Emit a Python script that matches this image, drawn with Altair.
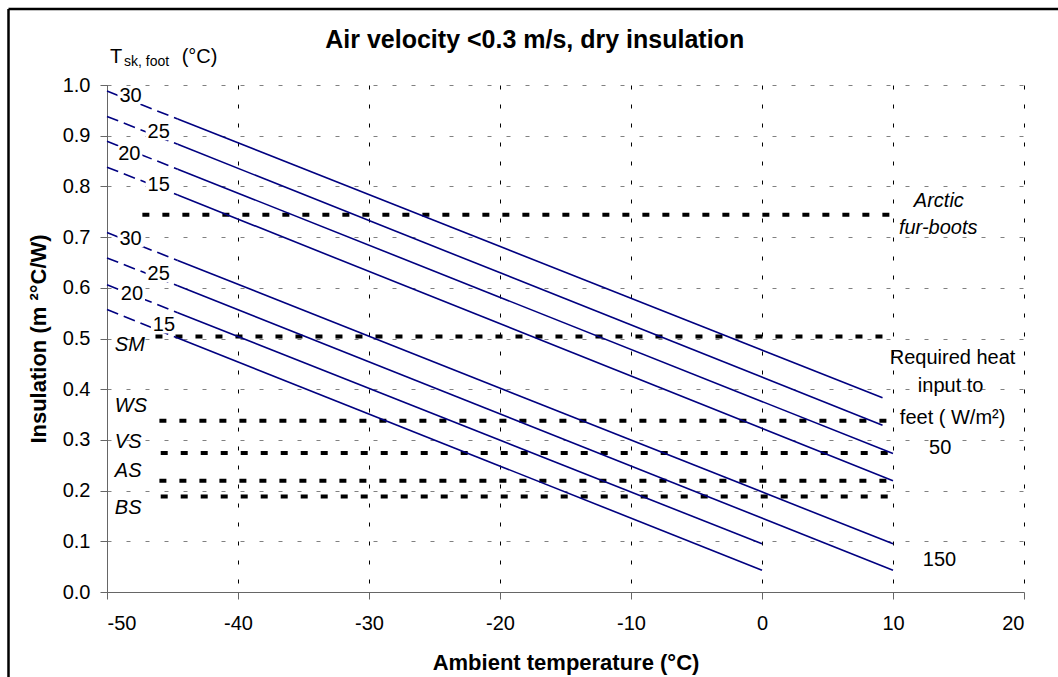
import altair as alt
import pandas as pd

FONT = "Liberation Sans"

# ---------------- data ----------------
# skin temperature iso-lines (upper group and lower group)
tsk_label = ["30", "25", "20", "15", "30", "25", "20", "15"]
x_start = [-50, -50, -50, -50, -50, -50, -50, -50]
y_start = [0.988, 0.938, 0.889, 0.838, 0.709, 0.659, 0.606, 0.557]
x_mid = [-44.6, -44.6, -44.6, -44.6, -44.6, -44.6, -44.6, -44.6]
y_mid = [0.933, 0.883, 0.834, 0.783, 0.654, 0.604, 0.551, 0.501]
x_end = [9.2, 9.2, 10, 10, 10, 10, 0, 0]
y_end = [0.383, 0.329, 0.273, 0.2195, 0.095, 0.043, 0.095, 0.043]
label_x = [-48.2, -46.05, -48.3, -46.05, -48.2, -46.05, -48.1, -45.65]
label_y = [0.979, 0.907, 0.863, 0.803, 0.696, 0.627, 0.588, 0.526]

# footwear insulation levels
shoe_name = ["Arctic fur-boots", "SM", "WS", "VS", "AS", "BS"]
shoe_ins = [0.744, 0.504, 0.338, 0.274, 0.2195, 0.1886]
shoe_x0 = [-47.3, -46.3, -46.0, -45.9, -46.0, -45.9]
shoe_x1 = [10.2, 10.0, 10.0, 10.2, 10.2, 10.3]

shoe_lab = ["SM", "WS", "VS", "AS", "BS"]
shoe_lab_x = [-49.4, -49.4, -49.4, -49.4, -49.4]
shoe_lab_y = [0.488, 0.366, 0.295, 0.238, 0.166]

arctic_text = ["Arctic", "fur-boots"]
arctic_x = [13.5, 13.45]
arctic_y = [0.772, 0.718]

ann_text = ["Required heat", "input to", "feet ( W/m²)", "50", "150"]
ann_x = [14.55, 14.4, 14.55, 13.6, 13.55]
ann_y = [0.462, 0.406, 0.344, 0.285, 0.064]

x_ticks = [-50, -40, -30, -20, -10, 0, 10, 20]
y_ticks = [0.0, 0.1, 0.2, 0.3, 0.4, 0.5, 0.6, 0.7, 0.8, 0.9, 1.0]

title_text = "Air velocity <0.3 m/s, dry insulation"

# ---------------- tables ----------------
dash_rows, solid_rows = [], []
for i in range(len(tsk_label)):
    dash_rows.append({"id": i, "o": 0, "x": x_start[i], "y": y_start[i]})
    dash_rows.append({"id": i, "o": 1, "x": x_mid[i], "y": y_mid[i]})
    solid_rows.append({"id": i, "o": 0, "x": x_mid[i], "y": y_mid[i]})
    solid_rows.append({"id": i, "o": 1, "x": x_end[i], "y": y_end[i]})
dash_df = pd.DataFrame(dash_rows)
solid_df = pd.DataFrame(solid_rows)
lab_df = pd.DataFrame({"t": tsk_label, "x": label_x, "y": label_y,
                       "x0": [v - 1.0 for v in label_x], "x1": [v + 1.0 for v in label_x],
                       "y0": [v - 0.016 for v in label_y], "y1": [v + 0.016 for v in label_y]})
shoe_df = pd.DataFrame({"n": shoe_name, "y": shoe_ins, "x0": shoe_x0, "x1": shoe_x1})
shoe_lab_df = pd.DataFrame({"t": shoe_lab, "x": shoe_lab_x, "y": shoe_lab_y})
arctic_df = pd.DataFrame({"t": arctic_text, "x": arctic_x, "y": arctic_y})
ann_df = pd.DataFrame({"t": ann_text, "x": ann_x, "y": ann_y})

xscale = alt.Scale(domain=[-50, 20], nice=False, zero=False)
yscale = alt.Scale(domain=[0, 1], nice=False, zero=False)

xaxis = alt.Axis(values=x_ticks, labelExpr="'' + datum.value", title="Ambient temperature (°C)",
                 labelFont=FONT, labelFontSize=20, labelColor="black", labelPadding=14,
                 titleFont=FONT, titleFontSize=22, titleFontWeight="bold", titleColor="black",
                 titlePadding=19, tickSize=7, tickColor="#666666", domainColor="#666666",
                 grid=True, gridColor="black", gridDash=[4, 15], gridWidth=1)
yaxis = alt.Axis(values=y_ticks, format=".1f", title="Insulation (m ²°C/W)",
                 labelFont=FONT, labelFontSize=20, labelColor="black", labelPadding=10,
                 titleFont=FONT, titleFontSize=22, titleFontWeight="bold", titleColor="black",
                 titlePadding=12, tickSize=7, tickColor="#666666", domainColor="#666666",
                 grid=True, gridColor="#808080", gridDash=[4, 15], gridWidth=1)


def X(f="x"):
    return alt.X(f"{f}:Q", scale=xscale, axis=xaxis)


def Y(f="y"):
    return alt.Y(f"{f}:Q", scale=yscale, axis=yaxis)


shoe_lines = alt.Chart(shoe_df).mark_rule(color="black", strokeWidth=4, strokeDash=[7, 13],
                                          strokeCap="butt").encode(
    x=X("x0"), x2="x1", y=Y("y"))

dashed = alt.Chart(dash_df).mark_line(color="#000080", strokeWidth=1.6, strokeDash=[12, 6]).encode(
    x=X(), y=Y(), detail="id:N", order="o:Q")
solid = alt.Chart(solid_df).mark_line(color="#000080", strokeWidth=1.6).encode(
    x=X(), y=Y(), detail="id:N", order="o:Q")

lab_bg = alt.Chart(lab_df).mark_rect(color="white").encode(
    x=X("x0"), x2="x1", y=Y("y0"), y2="y1")
lab_txt = alt.Chart(lab_df).mark_text(font=FONT, fontSize=20, color="black", baseline="middle").encode(
    x=X(), y=Y(), text="t:N")

shoe_txt = alt.Chart(shoe_lab_df).mark_text(font=FONT, fontSize=20, fontStyle="italic", color="black",
                                            align="left", baseline="middle").encode(
    x=X(), y=Y(), text="t:N")

arctic_txt = alt.Chart(arctic_df).mark_text(font=FONT, fontSize=20, fontStyle="italic", color="black",
                                            baseline="middle").encode(
    x=X(), y=Y(), text="t:N")

ann_txt = alt.Chart(ann_df).mark_text(font=FONT, fontSize=20, color="black", baseline="middle").encode(
    x=X(), y=Y(), text="t:N")

title_df = pd.DataFrame({"t": [title_text], "x": [-17.35], "y": [1.089]})
title_mark = alt.Chart(title_df).mark_text(font=FONT, fontSize=25, fontWeight="bold", color="black",
                                           baseline="middle").encode(x=X(), y=Y(), text="t:N")

tsk_df = pd.DataFrame({"t": ["T", "sk, foot", "(°C)"], "x": [-49.77, -48.7, -44.3],
                       "y": [1.044, 1.038, 1.044], "s": [20, 14, 20]})
tsk_mark = alt.Chart(tsk_df).mark_text(font=FONT, color="black", align="left",
                                       baseline="alphabetic").encode(
    x=X(), y=Y(), text="t:N", size=alt.Size("s:Q", scale=None))

# outer chart border (left and top edges)
frame_left = alt.Chart(title_df).mark_rule(color="black", strokeWidth=2.5).encode(
    x=alt.value(-98.5), y=alt.value(-76), y2=alt.value(620))
frame_top = alt.Chart(title_df).mark_rule(color="black", strokeWidth=2.5).encode(
    x=alt.value(-98.5), x2=alt.value(980), y=alt.value(-76))

chart = alt.layer(
    shoe_lines, dashed, solid, lab_bg, lab_txt, shoe_txt, arctic_txt, ann_txt, title_mark, tsk_mark,
    frame_left, frame_top
).properties(
    width=917, height=507,
    autosize=alt.AutoSizeParams(type="none"),
    padding={"left": 107, "top": 85, "right": 34, "bottom": 85},
    background="white"
).configure_view(strokeWidth=0)

chart.save("out.html", embed_options={"renderer": "svg", "actions": False})
